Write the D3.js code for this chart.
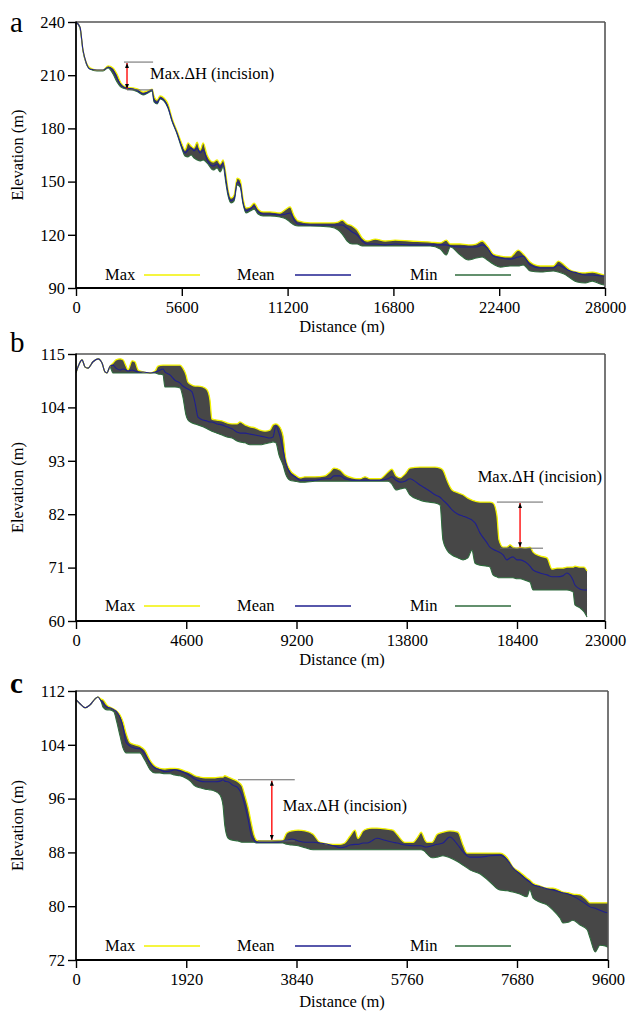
<!DOCTYPE html>
<html>
<head>
<meta charset="utf-8">
<script src="https://cdn.jsdelivr.net/npm/d3@7"></script>
<style>
  body { margin: 0; background: #fff; }
  text { font-family: "Liberation Serif", "Times New Roman", serif; fill: #000; }
</style>
</head>
<body>
<div id="chart"></div>
<script>
// ---- data: panel a ----
const distA = [0,210,370,530,740,1110,1430,1700,1960,2170,2380,2650,3020,3280,3550,3810,4030,4130,4290,4450,4660,4870,5080,5350,5610,5770,5930,6090,6250,6410,6570,6730,6940,7260,7470,7630,7790,7940,8050,8210,8370,8530,8690,8840,9000,9220,9430,9640,9900,10270,10800,11120,11330,11550,11760,12390,13450,13880,14090,14350,14620,14880,15150,15410,15840,16370,16890,17690,18750,19280,19600,19810,20340,20760,21180,21500,21770,22080,22460,22990,23410,23670,24040,24570,25260,25530,25840,26160,26530,26960,27330,27750,27960];
const maxA = [240,237.2,224.2,217.4,214.1,212.9,212.9,215.2,214.1,210.7,205.6,203.3,202.8,202.2,200.5,201.1,202.2,198.3,196.0,198.3,197.1,193.8,185.9,178.5,171.2,167.8,171.8,170.1,168.9,172.3,167.8,171.8,165.0,161.0,162.2,159.9,162.2,153.7,145.3,140.7,142.4,152.0,150.9,140.7,135.1,135.7,137.9,134.5,132.9,132.9,132.3,134.5,135.7,130.6,127.8,126.7,126.7,127.2,128.3,126.1,125.0,122.7,118.2,116.5,117.6,116.5,117.0,116.5,115.9,115.4,117.0,114.8,114.8,114.3,114.8,116.5,113.7,109.2,108.0,107.5,111.4,109.2,104.6,102.4,102.4,105.2,103.0,100.1,99.0,98.5,99.0,97.9,97.3];
const meanA = [240,237.2,224.2,217.4,213.5,212.9,212.9,214.6,212.9,208.4,204.5,202.8,202.2,201.1,199.4,200.5,201.7,196.0,194.3,197.1,196.0,192.1,184.7,177.4,169.5,166.1,167.8,168.9,167.3,168.9,166.1,167.8,162.2,158.8,159.9,157.7,160.5,150.9,143.6,139.1,140.2,149.8,148.6,138.5,133.4,134.5,136.2,132.9,131.7,131.7,131.2,131.7,132.3,128.3,126.1,125.5,125.5,125.5,125.5,123.8,121.6,119.9,116.5,114.8,114.8,114.3,114.8,114.3,114.3,114.3,114.3,113.7,113.1,113.1,113.1,114.3,112.6,108.0,106.9,106.3,107.5,108.0,103.0,101.3,101.3,103.0,101.3,99.6,98.5,97.3,97.3,96.8,96.8];
const minA = [240,236.6,223.6,216.9,213.5,212.4,212.4,214.1,210.7,206.2,203.3,202.2,201.7,200.5,198.8,200.0,201.1,194.9,193.8,196.6,195.4,191.5,184.2,176.8,168.4,164.4,163.9,165.0,163.3,162.2,161.6,162.2,160.5,156.5,157.7,155.4,158.2,148.6,141.9,137.9,139.1,148.1,146.9,137.4,132.3,133.4,134.5,131.7,130.6,130.6,130.0,128.9,127.2,125.5,125.0,125.0,124.4,122.7,120.4,116.5,114.8,114.8,113.7,113.7,113.7,113.7,113.7,113.7,113.7,112.0,108.6,113.1,108.6,105.8,106.9,107.5,105.8,103.5,101.8,102.4,102.4,103.0,99.6,99.0,99.6,99.0,97.9,95.6,93.4,92.8,93.9,92.3,91.7];
const xTicksA = [0,5600,11200,16800,22400,28000];
const yTicksA = [90,120,150,180,210,240];
// incision marker: distance, top, bottom, line extent, label position
const markA = {at:2700, top:217.4, bottom:201.7, from:2540, to:4080, lowFrom:2700, labelX:3920, labelY:207.9, anchor:"start"};

// ---- data: panel b ----
const distB = [0,80,250,380,500,710,920,1090,1210,1290,1420,1540,1670,1840,1960,2090,2170,2340,2460,2590,2800,3090,3300,3420,3630,3710,3920,4130,4340,4460,4590,4670,4840,4970,5090,5300,5470,5590,5670,5880,6090,6300,6510,6720,6840,7050,7260,7470,7680,7890,8090,8220,8340,8470,8640,8760,8930,9140,9350,9550,9970,10390,10600,10760,11010,11220,11520,11850,12060,12270,12680,13020,13180,13350,13520,13730,13930,14350,14690,14980,15190,15310,15480,15690,15940,16150,16350,16520,16650,16860,17150,17270,17400,17560,17650,17820,17980,18110,18230,18400,18560,18820,19080,19240,19600,19970,20230,20490,20800,21010,21330,21430,21690,21900,22060];
const maxB = [111.1,112.3,113.8,112.3,112.1,113.4,114.0,113.1,111.3,111.1,112.5,113.1,113.8,114.0,113.8,112.5,111.7,113.6,113.4,111.7,111.3,111.1,111.5,112.5,112.7,112.7,112.7,112.7,112.7,112.1,110.7,109.2,108.6,108.4,108.4,108.2,107.6,105.5,101.6,101.4,101.2,100.8,100.6,100.6,101.0,100.4,100.0,99.8,99.3,99.1,99.3,100.4,100.6,100.2,98.1,93.2,91.1,90.1,89.5,89.7,89.7,89.9,90.7,91.5,91.1,90.1,89.5,89.3,89.7,89.3,89.3,90.7,91.3,89.9,89.5,90.3,91.5,91.7,91.7,91.7,91.5,91.1,89.0,87.0,86.4,86.0,85.3,84.9,84.7,84.5,84.5,84.5,84.3,81.8,76.7,75.2,75.2,75.7,75.2,75.0,75.2,75.0,75.2,74.2,73.4,73.0,70.7,70.9,70.9,71.1,71.1,71.3,71.1,71.1,70.3];
const meanB = [111.1,112.3,113.8,112.3,112.1,113.4,114.0,113.1,111.3,111.1,112.5,112.7,112.1,111.7,111.9,111.7,111.5,111.7,111.5,111.3,111.3,111.1,111.3,111.5,111.9,111.3,110.7,109.6,109.0,108.4,108.0,107.8,107.2,104.9,102.0,101.4,101.2,101.0,101.0,100.6,100.4,100.0,99.6,98.9,98.7,98.7,98.5,98.3,98.1,97.9,97.7,97.9,100.2,98.7,95.2,92.5,90.5,89.7,89.0,89.0,89.0,89.3,89.3,89.9,89.9,89.3,89.0,89.0,89.0,89.0,89.0,89.3,89.7,89.0,88.6,88.8,89.3,88.0,87.0,86.0,85.5,84.9,84.1,82.9,82.0,81.6,81.2,80.8,80.2,78.1,76.1,75.2,74.8,74.4,74.2,73.6,72.6,73.0,73.2,72.6,72.6,72.2,71.3,70.5,69.9,69.5,69.1,69.1,69.3,69.9,68.4,67.4,66.6,66.4,66.4];
const minB = [111.1,112.3,113.8,112.3,112.1,113.4,114.0,113.1,111.3,111.1,112.3,111.1,111.1,111.1,111.1,111.1,111.1,111.1,111.1,111.1,111.1,111.1,111.1,110.9,110.7,108.2,108.2,108.2,108.0,106.1,102.4,101.4,100.8,100.6,100.4,100.0,99.6,99.3,99.1,98.7,98.3,97.9,97.7,97.1,96.9,96.7,96.3,96.3,96.3,96.5,96.7,96.9,96.7,94.2,92.1,90.1,89.0,88.8,88.6,88.6,88.8,88.8,88.8,88.8,88.8,88.8,88.8,88.8,88.8,88.8,88.8,88.8,88.2,87.0,87.2,87.4,86.0,84.9,84.5,84.3,83.9,76.7,74.6,73.6,73.0,72.6,73.0,74.6,71.9,71.5,71.3,71.1,69.5,69.1,68.9,68.9,68.9,68.9,68.9,68.7,68.7,68.4,68.0,66.4,66.4,66.4,66.4,66.4,66.4,66.4,66.0,63.3,62.7,61.9,60.8];
const xTicksB = [0,4600,9200,13800,18400,23000];
const yTicksB = [60,71,82,93,104,115];
const markB = {at:18560, top:84.5, bottom:75.0, from:17560, to:19760, lowFrom:17690, labelX:22840, labelY:88.6, anchor:"end"};

// ---- data: panel c ----
const distC = [0,70,160,240,330,380,440,470,540,590,660,710,770,820,870,940,1030,1110,1200,1290,1380,1460,1550,1640,1720,1810,1900,1990,2070,2160,2250,2330,2420,2510,2560,2590,2650,2730,2820,2890,2940,3000,3050,3100,3150,3240,3380,3520,3600,3670,3760,3870,3990,4130,4250,4480,4600,4680,4770,4860,4910,5000,5070,5150,5240,5380,5520,5590,5730,5870,5960,6010,6080,6110,6200,6290,6390,6510,6650,6740,6810,6860,7040,7210,7380,7510,7610,7740,7890,7950,8020,8170,8310,8440,8590,8650,8760,8860,9010,9160,9220,9330,9430,9540,9600];
const maxC = [110.7,110.1,109.5,109.9,110.8,111.1,110.8,110.7,109.9,109.6,109.3,109.0,108.4,107.4,105.8,104.3,104.0,103.8,103.2,101.7,100.8,100.5,100.4,100.5,100.5,100.4,100.1,99.8,99.4,99.2,99.1,99.1,99.1,99.2,99.2,99.4,99.2,98.9,98.5,97.9,96.5,94.6,92.5,90.6,89.8,89.7,89.7,89.8,89.8,90.9,91.2,91.3,91.2,90.7,89.5,89.2,89.2,89.4,90.4,91.3,90.1,91.2,91.5,91.6,91.6,91.5,91.3,90.7,89.5,89.5,90.4,91.0,89.8,89.5,89.5,90.7,91.0,91.2,91.0,89.1,87.9,87.9,87.9,87.9,87.9,87.2,85.8,85.1,84.2,83.9,83.4,83.0,82.7,82.7,82.3,82.1,82.0,81.8,81.7,80.9,80.5,80.5,80.5,80.5,80.5];
const meanC = [110.7,110.1,109.5,109.9,110.8,111.1,110.5,110.2,109.6,109.5,109.2,108.9,108.0,106.6,104.4,103.8,103.5,103.4,102.6,101.3,100.5,100.3,100.0,100.1,100.3,100.1,99.8,99.4,98.9,98.6,98.5,98.5,98.5,98.6,98.8,98.6,98.5,98.0,97.6,96.5,95.0,92.8,90.6,89.8,89.5,89.5,89.5,89.5,89.7,89.8,90.0,89.7,89.5,89.5,89.4,89.0,88.7,88.8,89.1,89.2,89.2,89.4,89.4,89.7,90.1,89.8,89.5,89.4,89.1,89.0,89.0,89.0,88.8,88.8,89.0,89.2,89.4,90.3,89.1,88.1,87.5,87.3,87.3,87.5,87.6,86.9,85.7,84.8,83.9,83.6,83.2,82.9,82.6,82.4,82.1,82.0,81.8,81.5,80.9,80.2,79.9,79.7,79.4,79.1,79.0];
const minC = [110.7,110.1,109.5,109.9,110.8,111.1,110.4,109.6,109.2,109.2,108.9,107.4,105.2,103.5,102.8,102.8,102.8,102.8,101.7,100.3,99.8,99.8,99.7,99.7,99.5,99.4,99.1,98.6,97.9,97.6,97.4,97.3,97.1,96.5,95.0,92.1,90.1,89.8,89.7,89.5,89.5,89.5,89.5,89.5,89.4,89.4,89.4,89.4,89.4,89.2,89.1,89.0,88.7,88.4,88.4,88.4,88.4,88.4,88.4,88.4,88.4,88.4,88.4,88.4,88.4,88.4,88.4,88.4,88.4,88.4,88.4,88.4,88.1,87.8,87.2,87.3,87.5,87.2,86.6,86.1,85.7,85.4,84.8,83.6,82.4,82.3,82.1,81.8,81.4,82.4,81.2,80.6,80.2,79.4,78.2,77.5,77.6,77.9,77.2,76.5,75.3,73.2,74.2,74.1,73.9];
const xTicksC = [0,1920,3840,5760,7680,9600];
const yTicksC = [72,80,88,96,104,112];
const markC = {at:3410, top:98.8, bottom:89.7, from:2820, to:3810, lowFrom:3170, labelX:3600, labelY:94.2, anchor:"start"};

const seriesNames = ["Max", "Mean", "Min"];
const seriesColors = ["#f2f200", "#1f1f8f", "#2f6b3d"];

// ---- layout ----
const W = 630, H = 1013;
const panels = [
  {letter:"a", bold:false, dist:distA, max:maxA, mean:meanA, min:minA, xTicks:xTicksA, yTicks:yTicksA, mark:markA,
   xDomain:[0,28000], xRange:[76,605], top:22, bottom:288, right:605, letterY:32, titleY:332, legendY:275},
  {letter:"b", bold:false, dist:distB, max:maxB, mean:meanB, min:minB, xTicks:xTicksB, yTicks:yTicksB, mark:markB,
   xDomain:[0,18400,23000], xRange:[76,517,605], top:354, bottom:621, right:605, letterY:352, titleY:665, legendY:606},
  {letter:"c", bold:true, dist:distC, max:maxC, mean:meanC, min:minC, xTicks:xTicksC, yTicks:yTicksC, mark:markC,
   xDomain:[0,7680,9600], xRange:[76,517,608], top:691, bottom:960, right:608, letterY:693, titleY:1007, legendY:946}
];
const left = 76;

const svg = d3.select("#chart").append("svg")
  .attr("width", W).attr("height", H);

const defs = svg.append("defs");
defs.append("marker")
  .attr("id", "arrowhead")
  .attr("viewBox", "0 0 10 10")
  .attr("refX", 10).attr("refY", 5)
  .attr("markerUnits", "userSpaceOnUse")
  .attr("markerWidth", 5).attr("markerHeight", 4)
  .attr("orient", "auto-start-reverse")
  .attr("preserveAspectRatio", "none")
  .append("path")
  .attr("d", "M0,0L10,5L0,10z")
  .attr("fill", "#000");

panels.forEach(drawPanel);

function drawPanel(p, i){
  const x = d3.scaleLinear().domain(p.xDomain).range(p.xRange);
  const y = d3.scaleLinear()
    .domain([p.yTicks[0], p.yTicks[p.yTicks.length - 1]])
    .range([p.bottom, p.top]);

  const rows = p.dist.map((d, k) => ({d: d, max: p.max[k], mean: p.mean[k], min: p.min[k]}));

  const g = svg.append("g");

  //clip to the frame
  defs.append("clipPath").attr("id", "clip" + i)
    .append("rect")
    .attr("x", left).attr("y", p.top)
    .attr("width", p.right - left).attr("height", p.bottom - p.top);

  const plot = g.append("g").attr("clip-path", "url(#clip" + i + ")");

  const band = d3.area()
    .x(d => x(d.d))
    .y0(d => y(d.min))
    .y1(d => y(d.max))
    .curve(d3.curveMonotoneX);

  plot.append("path")
    .datum(rows)
    .attr("d", band)
    .attr("fill", "#474747");

  //min, max, mean lines
  const keys = ["min", "max", "mean"];
  const colorOf = {max: seriesColors[0], mean: seriesColors[1], min: seriesColors[2]};
  const widthOf = {max: 1.3, mean: 1.1, min: 1.1};
  keys.forEach(key => {
    const line = d3.line()
      .x(d => x(d.d))
      .y(d => y(d[key]))
      .curve(d3.curveMonotoneX);
    plot.append("path")
      .datum(rows)
      .attr("d", line)
      .attr("fill", "none")
      .attr("stroke", colorOf[key])
      .attr("stroke-width", widthOf[key]);
  });

  //frame (top and right in grey)
  g.append("line")
    .attr("x1", left).attr("x2", p.right)
    .attr("y1", p.top).attr("y2", p.top)
    .attr("stroke", "#555").attr("stroke-width", 1.6);
  g.append("line")
    .attr("x1", p.right).attr("x2", p.right)
    .attr("y1", p.top).attr("y2", p.bottom)
    .attr("stroke", "#555").attr("stroke-width", 1.6);

  //axes
  const yAxis = d3.axisLeft(y).tickValues(p.yTicks).tickSize(8).tickPadding(3).tickFormat(d3.format("d"));
  const xAxis = d3.axisBottom(x).tickValues(p.xTicks).tickSize(8).tickPadding(5).tickFormat(d3.format("d"));

  const ya = g.append("g")
    .attr("transform", "translate(" + left + ",0)")
    .call(yAxis);
  const xa = g.append("g")
    .attr("transform", "translate(0," + p.bottom + ")")
    .call(xAxis);

  [ya, xa].forEach(a => {
    a.select(".domain").attr("stroke", "#000").attr("stroke-width", 1.8);
    a.selectAll(".tick line").attr("stroke", "#000").attr("stroke-width", 1.4);
    a.selectAll(".tick text")
      .attr("font-family", "'Liberation Serif', 'Times New Roman', serif")
      .attr("font-size", 16.5)
      .attr("fill", "#000");
  });
  ya.select(".domain").attr("d", "M0," + (p.top - 0.5) + "V" + p.bottom);
  xa.select(".domain").attr("d", "M" + left + ",0H" + p.right);

  //panel letter
  g.append("text")
    .attr("x", 10).attr("y", p.letterY)
    .attr("font-size", 29)
    .attr("font-weight", p.bold ? "bold" : "normal")
    .text(p.letter);

  //axis titles
  g.append("text")
    .attr("transform", "translate(23," + ((p.top + p.bottom) / 2) + ")rotate(-90)")
    .attr("text-anchor", "middle")
    .attr("font-size", 16.5)
    .text("Elevation (m)");

  g.append("text")
    .attr("x", 342).attr("y", p.titleY)
    .attr("text-anchor", "middle")
    .attr("font-size", 16.5)
    .text("Distance (m)");

  //legend
  const legX = [105, 237, 410];
  const lineX = [144, 295, 455];
  seriesNames.forEach((name, k) => {
    g.append("text")
      .attr("x", legX[k]).attr("y", p.legendY + 5)
      .attr("font-size", 16.5)
      .text(name);
    g.append("line")
      .attr("x1", lineX[k]).attr("x2", lineX[k] + 56)
      .attr("y1", p.legendY).attr("y2", p.legendY)
      .attr("stroke", seriesColors[k])
      .attr("stroke-width", 1.5);
  });

  //incision marker
  const m = p.mark;
  g.append("line")
    .attr("x1", x(m.from)).attr("x2", x(m.to))
    .attr("y1", y(m.top)).attr("y2", y(m.top))
    .attr("stroke", "#666").attr("stroke-width", 1);
  g.append("line")
    .attr("x1", x(m.lowFrom)).attr("x2", x(m.to))
    .attr("y1", y(m.bottom)).attr("y2", y(m.bottom))
    .attr("stroke", "#666").attr("stroke-width", 1);
  g.append("line")
    .attr("x1", x(m.at)).attr("x2", x(m.at))
    .attr("y1", y(m.top) + 1).attr("y2", y(m.bottom) - 1)
    .attr("stroke", "#ff2a2a").attr("stroke-width", 1.6)
    .attr("marker-start", "url(#arrowhead)")
    .attr("marker-end", "url(#arrowhead)");
  g.append("text")
    .attr("x", x(m.labelX)).attr("y", y(m.labelY))
    .attr("text-anchor", m.anchor)
    .attr("font-size", 16.5)
    .text("Max.\u0394H (incision)");
}
</script>
</body>
</html>
